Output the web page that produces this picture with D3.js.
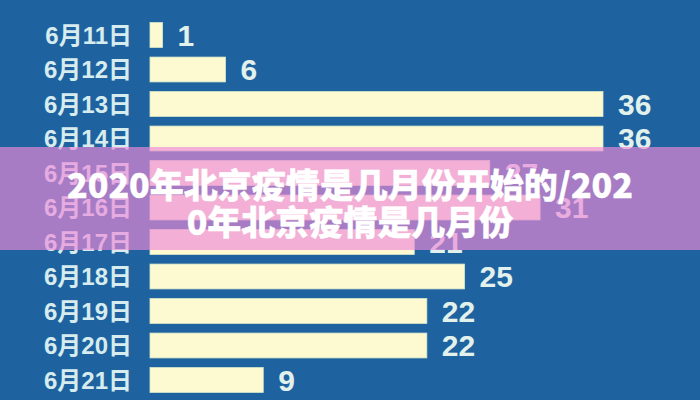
<!DOCTYPE html>
<html>
<head>
<meta charset="utf-8">
<script src="https://cdn.jsdelivr.net/npm/d3@7"></script>
<style>
	html, body { margin: 0; padding: 0; background: #1f64a0; }
	svg { display: block; }
</style>
</head>
<body>
<svg id="chart" width="700" height="400"></svg>
<script>
const days = ['6月11日', '6月12日', '6月13日', '6月14日', '6月15日', '6月16日',
	'6月17日', '6月18日', '6月19日', '6月20日', '6月21日'];
const cases = [1, 6, 36, 36, 27, 31, 21, 25, 22, 22, 9];
const titleLines = ['2020年北京疫情是几月份开始的/202', '0年北京疫情是几月份'];

const width = 700;
const height = 400;

const rows = days.map((d, i) => ({day: d, value: cases[i]}));

const svg = d3.select('#chart');

svg.append('rect')
	.attr('width', width)
	.attr('height', height)
	.attr('fill', '#1e63a0');

// x scale only, the picture has no axis lines
let x = d3.scaleLinear()
	.domain([0, 36])
	.range([150, 603]);

let y = d3.scaleBand()
	.domain(days)
	.range([17.75, 397.25])
	.paddingInner(0.28)
	.paddingOuter(0.14);

let rowG = svg.selectAll('g.row')
	.data(rows)
	.enter()
	.append('g')
	.attr('class', 'row');

rowG.append('rect')
	.attr('x', x(0))
	.attr('y', d => y(d.day))
	.attr('width', d => x(d.value) - x(0))
	.attr('height', y.bandwidth())
	.attr('fill', '#fdfad2')
	.attr('stroke', '#d8e8c8')
	.attr('stroke-width', 0.8);

rowG.append('text')
	.attr('x', 132)
	.attr('y', d => y(d.day) + y.bandwidth() / 2)
	.attr('dy', '0.36em')
	.attr('text-anchor', 'end')
	.attr('font-family', '"Liberation Sans", "Noto Sans CJK SC", sans-serif')
	.attr('font-weight', 'bold')
	.attr('font-size', 24)
	.attr('fill', '#d6ecef')
	.text(d => d.day);

rowG.append('text')
	.attr('x', d => x(d.value) + 15)
	.attr('y', d => y(d.day) + y.bandwidth() / 2)
	.attr('dy', '0.36em')
	.attr('font-family', '"Liberation Sans", sans-serif')
	.attr('font-weight', 'bold')
	.attr('font-size', 30)
	.attr('fill', '#e2f1ec')
	.text(d => d.value);

// title banner laid over the picture
svg.append('rect')
	.attr('x', 0)
	.attr('y', 147)
	.attr('width', width)
	.attr('height', 103)
	.attr('fill', 'rgb(239,137,215)')
	.attr('fill-opacity', 0.66);

svg.selectAll('text.title')
	.data(titleLines)
	.enter()
	.append('text')
	.attr('class', 'title')
	.attr('x', width / 2)
	.attr('y', (d, i) => 186 + i * 37)
	.attr('dy', '0.35em')
	.attr('text-anchor', 'middle')
	.attr('font-family', '"Noto Sans CJK SC", sans-serif')
	.attr('font-weight', 900)
	.attr('font-size', 34)
	.attr('fill', '#ffffff')
	.attr('stroke', '#ffffff')
	.attr('stroke-width', 0.4)
	.text(d => d);
</script>
</body>
</html>
